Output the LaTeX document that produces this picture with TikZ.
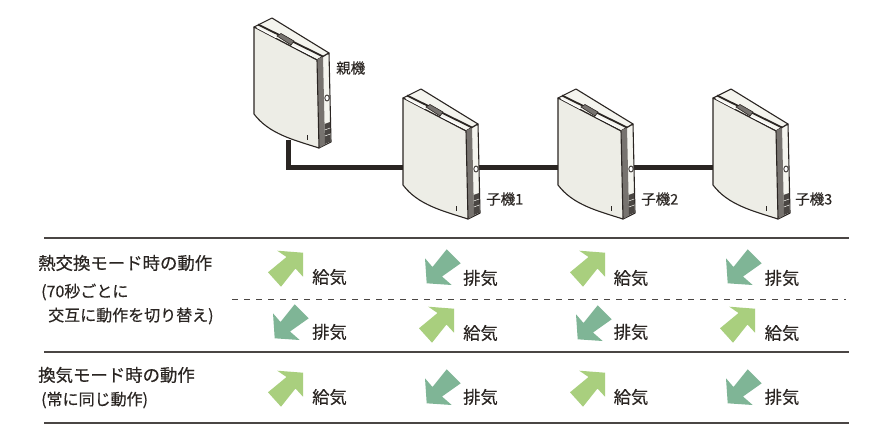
\documentclass[tikz,border=0pt]{standalone}
\usepackage{fontspec}
\setmainfont[RawFeature={embolden=0.35}]{Noto Sans CJK JP}
\definecolor{ink}{HTML}{2A2522}
\definecolor{panel}{HTML}{EDEDE6}
\definecolor{topcream}{HTML}{F4F4EE}
\definecolor{sidegrey}{HTML}{77736F}
\definecolor{supply}{HTML}{A9CF7E}
\definecolor{exhaust}{HTML}{7FB596}
\definecolor{rule}{HTML}{4A4644}
\tikzset{
  x=1pt,y=-1pt,
  devline/.style={draw=ink,line width=1.1pt,line join=round},
  cable/.style={draw=ink,line width=5pt,line join=miter},
  txt/.style={inner sep=0pt,font=\fontsize{17.3}{19}\selectfont,text=ink},
  sidetxt/.style={inner sep=0pt,anchor=west,font=\fontsize{14.5}{16}\selectfont,text=ink},
  headtxt/.style={txt,anchor=west,font=\fontsize{17.4}{19}\selectfont},
  smalltxt/.style={inner sep=0pt,anchor=west,font=\fontsize{16}{18}\selectfont,text=ink},
  hrule/.style={draw=rule,line width=1.6pt},
  dashrule/.style={draw=rule,line width=0.9pt,dash pattern=on 6pt off 6pt},
  pics/device/.style={code={
    % top face
    \path[devline,fill=topcream] (0,0) -- (18,-9) -- (75,26) -- (63,33) -- cycle;
    % side
    \path[devline,fill=topcream] (63,33) -- (75,26) -- (77,115) -- (65,121) -- cycle;
    \path[fill=sidegrey] (62,33) -- (69,29.5) -- (71,117.5) -- (65,121) -- cycle;
    % dark slot along the top
    \path[draw=ink,line width=1.8pt] (4,-2.5) -- (69,29.5);
    % front
    \path[devline,fill=panel] (0,0) -- (63,33) -- (65,121) .. controls (40,113) and (15,107) .. (0,87) -- cycle;
    \path[draw=white,line width=1.2pt] (3,0.5) -- (22,10.5) (38,18.5) -- (58,28.5);
    % vent
    \path[fill=sidegrey,draw=ink,line width=0.6pt] (23,9) -- (27,6.5) -- (40,14) -- (37,18) -- cycle;
    % knob and grille
    \path[draw=ink,fill=white,line width=0.8pt] (73,71) circle[x radius=2.2,y radius=3];
    \path[fill=ink!85] (70.5,97) -- (76,95) -- (76.6,114.5) -- (71,117) -- cycle;
    \path[draw=topcream,line width=0.5pt] (70.6,103) -- (76.2,101) (70.8,109) -- (76.4,107);
    \path[fill=ink] (52.6,108) rectangle (54,113);
  }},
  pics/upflow/.style={code={
    \path[fill=supply] (-10.7,-16.3) -- (15,-14.3) -- (15,9.7) -- (7.5,1.5) -- (-7,19.7) -- (-20,5.3) -- (-1.5,-10) -- cycle;
  }},
  pics/downflow/.style={code={
    \path[fill=exhaust] (-15,-8.7) -- (-13.3,16.3) -- (11.7,18) -- (2,9.5) -- (20.7,-3.7) -- (6.7,-17.7) -- (-7.5,0) -- cycle;
  }}
}
\begin{document}
\begin{tikzpicture}
\useasboundingbox (0,0) rectangle (890,445);
\path[fill=white] (0,0) rectangle (890,445);
% ports for the cable
\coordinate (m) at (254,27);
\coordinate (a) at (403,98);
\coordinate (b) at (558,98);
\coordinate (c) at (713,98);
\coordinate (mport) at (288,140);
\coordinate (bend) at (288,167);
\coordinate (aL) at (410,167);
\coordinate (aR) at (470,167);
\coordinate (bL) at (565,167);
\coordinate (bR) at (625,167);
\coordinate (cL) at (720,167);
\draw[cable] (mport) -- (bend) -- (aL);
\draw[cable] (aR) -- (bL);
\draw[cable] (bR) -- (cL);
\pic at (m) {device};
\pic at (a) {device};
\pic at (b) {device};
\pic at (c) {device};
\node[sidetxt] (lm) at (336,68) {親機};
\node[sidetxt] (la) at (486,199) {子機1};
\node[sidetxt] (lb) at (641,199) {子機2};
\node[sidetxt] (lc) at (795,199) {子機3};
% rules
\coordinate (r1a) at (44,238); \coordinate (r1b) at (849,238);
\coordinate (r2a) at (44,352); \coordinate (r2b) at (849,352);
\coordinate (r3a) at (44,423); \coordinate (r3b) at (849,423);
\coordinate (dsa) at (232,299); \coordinate (dsb) at (846,299);
\draw[hrule] (r1a) -- (r1b);
\draw[hrule] (r2a) -- (r2b);
\draw[hrule] (r3a) -- (r3b);
\draw[dashrule] (dsa) -- (dsb);
% left texts
\node[headtxt] (t1) at (38,263) {熱交換モード時の動作};
\node[smalltxt] (t2) at (41,292) {(70秒ごとに};
\node[smalltxt] (t3) at (48,316) {交互に動作を切り替え)};
\node[headtxt] (t4) at (38,375) {換気モード時の動作};
\node[smalltxt] (t5) at (41,400) {(常に同じ動作)};
% arrows
\pic at (288,267) {upflow};
\pic at (440,267) {downflow};
\pic at (590,267) {upflow};
\pic at (741,267) {downflow};
\pic at (288,322) {downflow};
\pic at (439,323) {upflow};
\pic at (591,323) {downflow};
\pic at (740,323) {upflow};
\pic at (288,387) {upflow};
\pic at (440,387) {downflow};
\pic at (590,387) {upflow};
\pic at (741,387) {downflow};
% flow labels
\node[txt] (g1) at (329.5,277) {給気};
\node[txt] (g2) at (480.5,278) {排気};
\node[txt] (g3) at (631,278) {給気};
\node[txt] (g4) at (782,278) {排気};
\node[txt] (g5) at (329.5,332) {排気};
\node[txt] (g6) at (480.5,333) {給気};
\node[txt] (g7) at (631,332) {排気};
\node[txt] (g8) at (782,333) {給気};
\node[txt] (g9) at (329.5,397) {給気};
\node[txt] (g10) at (480.5,397) {排気};
\node[txt] (g11) at (631,397) {給気};
\node[txt] (g12) at (782,397) {排気};
\end{tikzpicture}
\end{document}
